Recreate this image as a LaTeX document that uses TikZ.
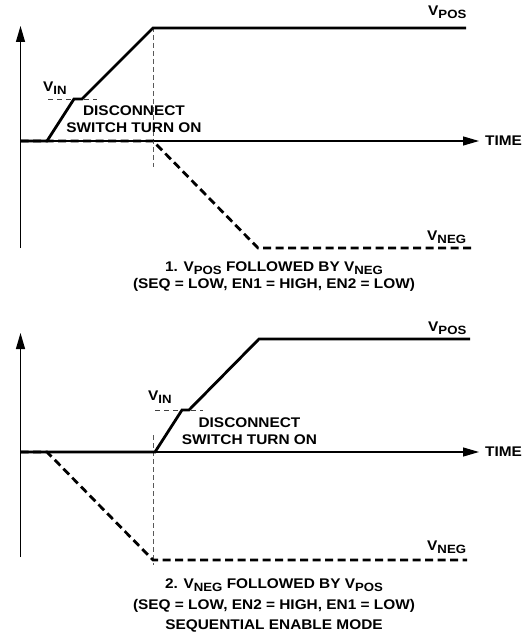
\documentclass[tikz,border=0pt]{standalone}
\usepackage{fontspec}
\setmainfont[FakeStretch=1.1]{Liberation Sans}
\usepackage{tikz}
\usetikzlibrary{arrows.meta, positioning}
\newcommand{\Vsub}[2]{#1\raisebox{-3pt}{\fontsize{12}{12}\selectfont #2}}

\begin{document}
\begin{tikzpicture}[x=1pt, y=-1pt,
  axis/.style={line width=1.2pt, -{Triangle[length=16pt,width=9pt]}},
  vpos/.style={line width=2.8pt, line join=miter},
  vneg/.style={line width=2.8pt, dash pattern=on 8pt off 4.5pt},
  guide/.style={black!65, line width=0.6pt, dash pattern=on 5pt off 3pt},
  vin/.style={black!75, line width=0.8pt, dash pattern=on 5pt off 4pt},
  lbl/.style={font=\fontsize{14}{17}\selectfont\bfseries, inner sep=0pt}]
\useasboundingbox (0,0) rectangle (523,636);

% Axes (both panels)
\foreach \p/\oy/\ya/\yb in {1/141/26/248, 2/452/333/557} {
  \coordinate (o\p) at (20.5,\oy);
  \node[lbl, anchor=west, inner xsep=6pt] (time\p) at (479,\oy) {TIME};
  \draw[axis] (20.5,\yb) -- (20.5,\ya);
  \draw[axis] (o\p) -- (time\p.west);
}

% Panel 1 -- VPOS first
\draw[guide] (153,27) -- (153,167);
\draw[vin] (48,99) -- (97,99);
\draw[vneg] (o1) -- (153,141) -- (258,248) -- (473,248);
\draw[vpos] (o1) -- (47,141) -- (74,99) -- (82,99) -- (153,28) -- (466,28);

\node[lbl, anchor=base west] (vpos1) at (428,16) {\Vsub{V}{POS}};
\node[lbl, anchor=base west] (vneg1) at (427,240) {\Vsub{V}{NEG}};
\node[lbl, anchor=base west] (vin1) at (43,92) {\Vsub{V}{IN}};
\node[lbl, anchor=north, align=center] (disc1) at (134,106)
  {DISCONNECT\\SWITCH TURN ON};
\node[lbl, anchor=north, align=center, font=\fontsize{14}{16.5}\selectfont\bfseries]
  (cap1) at (274,262)
  {1. \Vsub{V}{POS} FOLLOWED BY \Vsub{V}{NEG}\\(SEQ = LOW, EN1 = HIGH, EN2 = LOW)};

% Panel 2 -- VNEG first
\draw[guide] (153,435) -- (153,565);
\draw[vin] (155,410) -- (203,410);
\draw[vneg] (o2) -- (47,452) -- (153,560) -- (467,560);
\draw[vpos] (o2) -- (155,452) -- (182,410) -- (189,410) -- (259,339) -- (470,339);

\node[lbl, anchor=base west] (vpos2) at (428,331) {\Vsub{V}{POS}};
\node[lbl, anchor=base west] (vneg2) at (427,550) {\Vsub{V}{NEG}};
\node[lbl, anchor=base west] (vin2) at (148,400) {\Vsub{V}{IN}};
\node[lbl, anchor=north, align=center] (disc2) at (249.5,418)
  {DISCONNECT\\SWITCH TURN ON};
\node[lbl, anchor=north, align=center, font=\fontsize{14}{20.5}\selectfont\bfseries]
  (cap2) at (274,579)
  {2. \Vsub{V}{NEG} FOLLOWED BY \Vsub{V}{POS}\\(SEQ = LOW, EN2 = HIGH, EN1 = LOW)\\SEQUENTIAL ENABLE MODE};
\end{tikzpicture}
\end{document}
